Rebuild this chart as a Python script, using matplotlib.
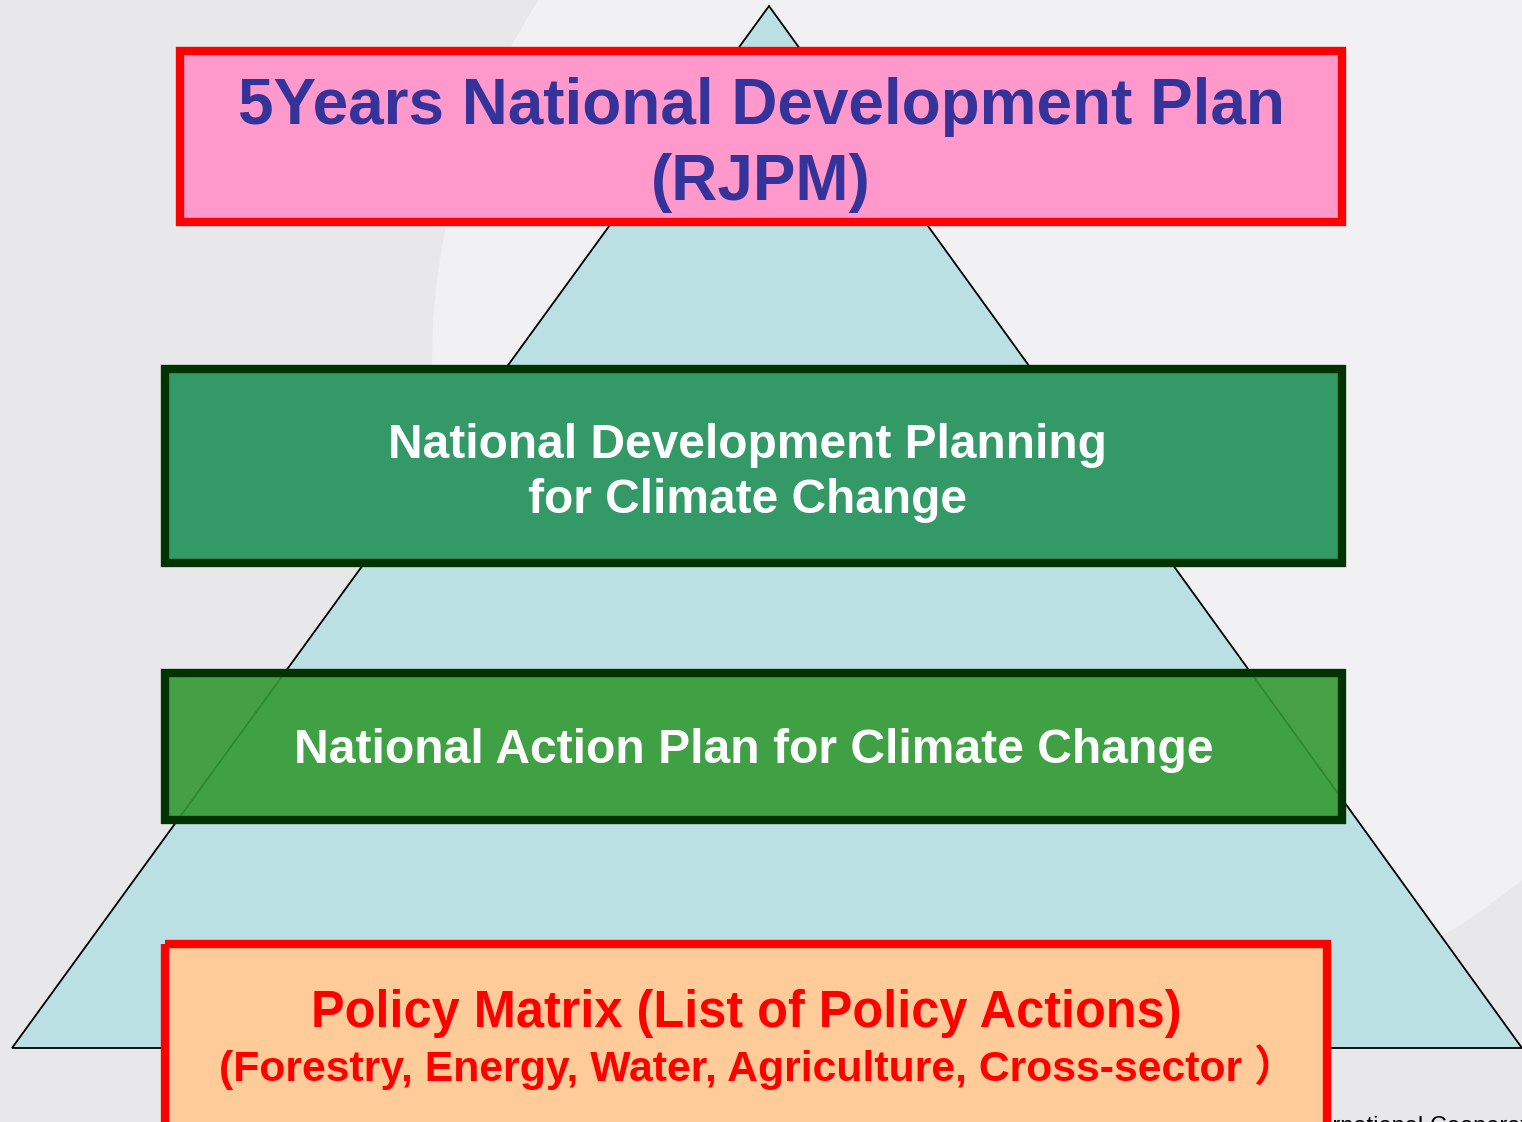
import matplotlib.pyplot as plt
from matplotlib.patches import Polygon, Rectangle, Circle

# box labels, top to bottom
labels = [
    "5Years National Development Plan\n(RJPM)",
    "National Development Planning\nfor Climate Change",
    "National Action Plan for Climate Change",
    "Policy Matrix (List of Policy Actions)",
]
sub_label = "(Forestry, Energy, Water, Agriculture, Cross-sector \uff09"
footer = "International Cooperation"

# box geometry in pixels: x0, y0, x1, y1
boxes = [(180, 51, 1342, 222), (165, 369, 1342, 563), (165, 673, 1342, 820), (165, 944, 1327, 1124)]
fills = ["#ff99cc", "#339966", "#339933", "#ffcc99"]
edges = ["#ff0000", "#003300", "#003300", "#ff0000"]
alphas = [1, 1, 0.9, 1]
text_colors = ["#333399", "white", "white", "#ff0000"]

W, H = 1522, 1122
fig = plt.figure(figsize=(W / 100, H / 100), dpi=100)
ax = fig.add_axes([0, 0, 1, 1])
ax.set_xlim(0, W)
ax.set_ylim(H, 0)
ax.axis("off")
fig.patch.set_facecolor("#e8e8ea")

fam = ["Liberation Sans", "Noto Sans CJK SC", "DejaVu Sans"]

# soft background swirl
ax.add_patch(Circle((1100, 362), 668, facecolor="#f1f1f3", edgecolor="none", zorder=0))

# pyramid
ax.add_patch(Polygon([(769, 6), (12, 1048), (1522, 1048)], closed=True,
                     facecolor="#bae0e3", edgecolor="black", lw=1.3, zorder=1))

ax.text(1293, 1133, footer, fontsize=17, family=fam, color="black", zorder=1.5)

for (x0, y0, x1, y1), fc, ec, a in zip(boxes, fills, edges, alphas):
    ax.add_patch(Rectangle((x0, y0), x1 - x0, y1 - y0, facecolor=fc, edgecolor="none",
                           alpha=a, zorder=2))
    ax.add_patch(Rectangle((x0, y0), x1 - x0, y1 - y0, facecolor="none", edgecolor=ec,
                           lw=6, zorder=3))

ax.text(761, 145, labels[0], ha="center", va="center", fontsize=46, fontweight="bold",
        family=fam, color=text_colors[0], linespacing=1.36, zorder=4)
ax.text(747, 473, labels[1], ha="center", va="center", fontsize=34.5, fontweight="bold",
        family=fam, color=text_colors[1], linespacing=1.3, zorder=4)
ax.text(754, 750, labels[2], ha="center", va="center", fontsize=34.6, fontweight="bold",
        family=fam, color=text_colors[2], zorder=4)
ax.text(746, 1013, labels[3], ha="center", va="center", fontsize=36.4, fontweight="bold",
        family=fam, color=text_colors[3], zorder=4)
ax.text(758, 1067, sub_label, ha="center", va="center", fontsize=30.8, fontweight="bold",
        family=fam, color=text_colors[3], zorder=4)

fig.savefig("out.png", dpi=100, facecolor=fig.get_facecolor())
